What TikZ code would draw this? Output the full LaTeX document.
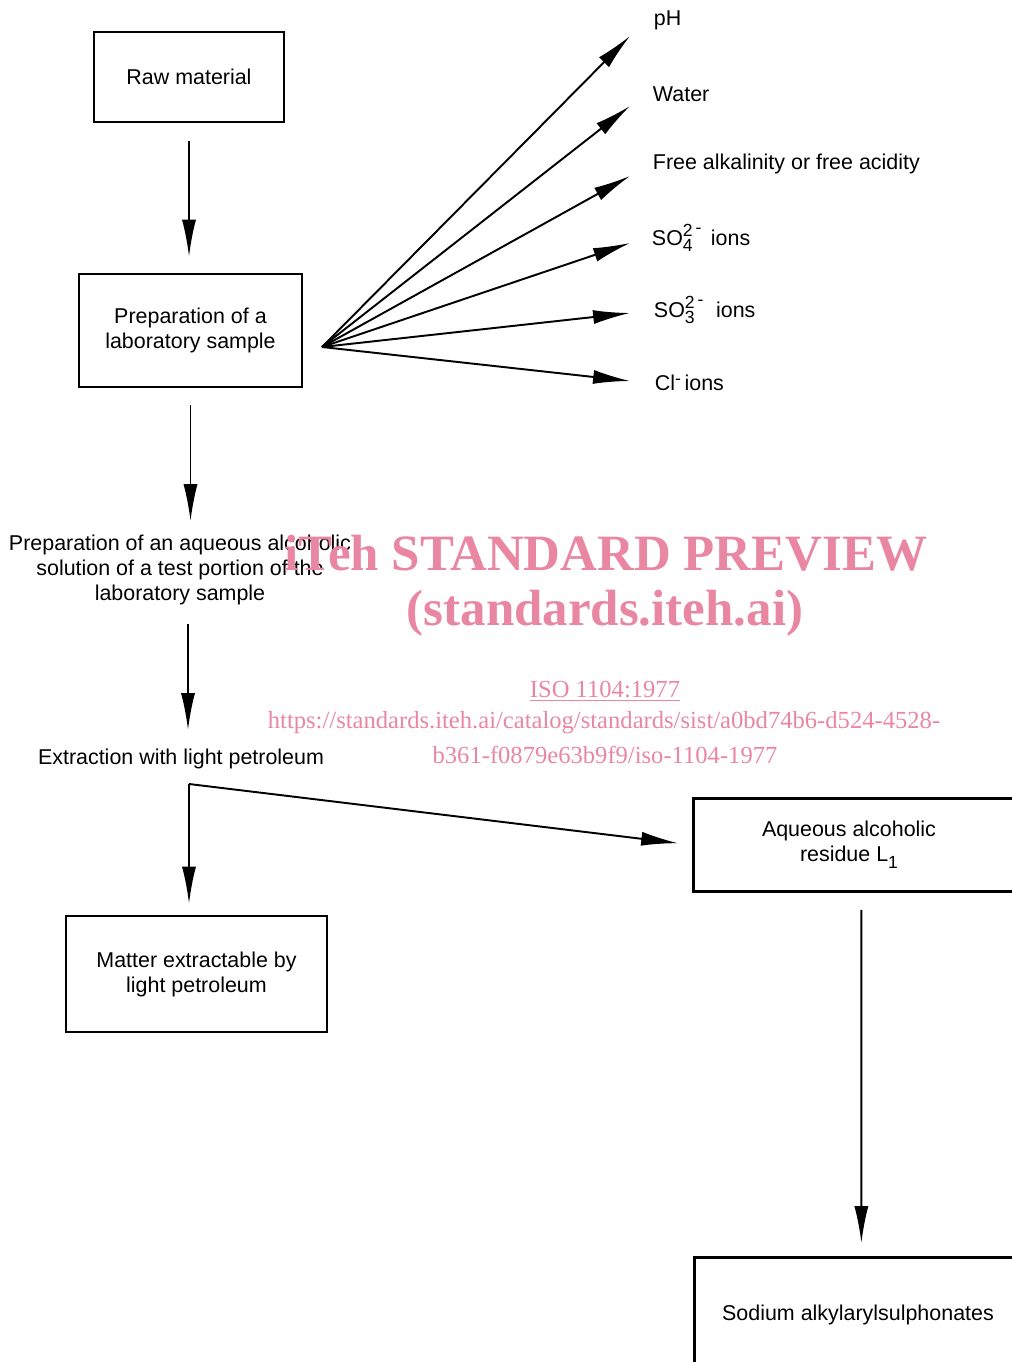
\documentclass[tikz,border=0pt]{standalone}
\usepackage{fontspec}
\setmainfont{Liberation Sans}
\newfontfamily\wmfont{Liberation Serif}
\usetikzlibrary{arrows.meta}
\definecolor{wmpink}{RGB}{233,135,163}
\newcommand\smallfig[1]{{\fontsize{10}{10}\selectfont #1}}
\newcommand\soion[2]{SO\rlap{\raisebox{0.75ex}{\smallfig{2\,\raisebox{.35ex}{-}}}}\raisebox{-0.55ex}{\smallfig{#1}}\hspace{#2}ions}
\begin{document}
\begin{tikzpicture}[x=0.02cm,y=-0.02cm,line width=1.1pt,>={Latex[length=21pt,width=8pt]},
  box/.style={draw,line width=1.6pt,font=\fontsize{12.2}{14.2}\selectfont,align=center},
  txt/.style={font=\fontsize{12.2}{14.2}\selectfont,align=center,inner sep=0pt},
  wm/.style={text=wmpink,font=\wmfont\fontsize{14}{16}\selectfont,inner sep=0pt}]
            \useasboundingbox (0,0) rectangle (1011,1362);

            \node[box,minimum width=3.8cm,minimum height=1.8cm] at (189,77) (raw) {Raw material};
            \node[box,minimum width=4.46cm,minimum height=2.26cm] at (190.5,330.5) (prep) {Preparation of a\\laboratory sample};
            \node[txt] at (180,570) (aqsol) {Preparation of an aqueous alcoholic\\solution of a test portion of the\\laboratory sample};
            \node[txt] at (181,759) (extract) {Extraction with light petroleum};
            \node[box,minimum width=5.22cm,minimum height=2.32cm] at (196.5,974) (matter) {Matter extractable by\\light petroleum};
            \node[box,minimum width=6.72cm,minimum height=1.86cm,anchor=north west] at (692,797) (residuebox) {};
            \node[txt] at (849,845) (residue) {Aqueous alcoholic\\residue L\raisebox{-0.6ex}{\smallfig{1}}};
            \node[box,minimum width=6.68cm,minimum height=4cm,anchor=north west] at (693,1256) (sodiumbox) {};
            \node[txt] at (858,1315) (sodium) {Sodium alkylarylsulphonates};

            \coordinate (fan) at (322,347);
            \coordinate (split) at (189,784);
            \node[txt,anchor=west] at (653,20) (ph) {pH};
            \node[txt,anchor=west] at (652,94) (water) {Water};
            \node[txt,anchor=west] at (652,164) (free) {Free alkalinity or free acidity};
            \node[txt,anchor=west] at (651,238) (sofour) {\soion{4}{0.85em}};
            \node[txt,anchor=west] at (653,310) (sothree) {\soion{3}{1.0em}};
            \node[txt,anchor=west] at (654,383) (cl) {Cl\raisebox{.55ex}{\smallfig{-}}\,ions};
            \coordinate (tph) at (630,36);
            \coordinate (twater) at (630,106);
            \coordinate (tfree) at (630,176);
            \coordinate (tsofour) at (630,243);
            \coordinate (tsothree) at (630,313);
            \coordinate (tcl) at (630,381);

            \path[->] (raw.south) edge[shorten <=0.36cm,shorten >=0.32cm] (raw.south |- prep.north);
            \path[->] (prep.south) edge[shorten <=0.34cm,shorten >=0.26cm] (prep.south |- aqsol.north);
            \path[->] (aqsol.south -| 188,0) edge[shorten <=0.36cm,shorten >=0.36cm] (extract.north -| 188,0);
            \path[->] (split) edge[shorten >=0.22cm] (split |- matter.north)
                (split) edge[shorten >=0.28cm] (residuebox.west)
                (residuebox.south) edge[shorten <=0.34cm,shorten >=0.26cm] (sodiumbox.north);

            \path[->] (fan) edge (tph)
                (fan) edge (twater)
                (fan) edge (tfree)
                (fan) edge (tsofour)
                (fan) edge (tsothree)
                (fan) edge (tcl);

            \node[wm,font=\wmfont\bfseries\fontsize{29}{32}\selectfont] at (606,553) (wmtitle) {iTeh STANDARD PREVIEW};
            \node[wm,font=\wmfont\bfseries\fontsize{29}{32}\selectfont] at (605,613) (wmsite) {(standards.iteh.ai)};
            \node[wm] at (605,691) (wmiso) {\underline{ISO 1104:1977}};
            \node[wm] at (604,723) (wmurla) {https://standards.iteh.ai/catalog/standards/sist/a0bd74b6-d524-4528-};
            \node[wm] at (605,755) (wmurlb) {b361-f0879e63b9f9/iso-1104-1977};
\end{tikzpicture}
\end{document}
